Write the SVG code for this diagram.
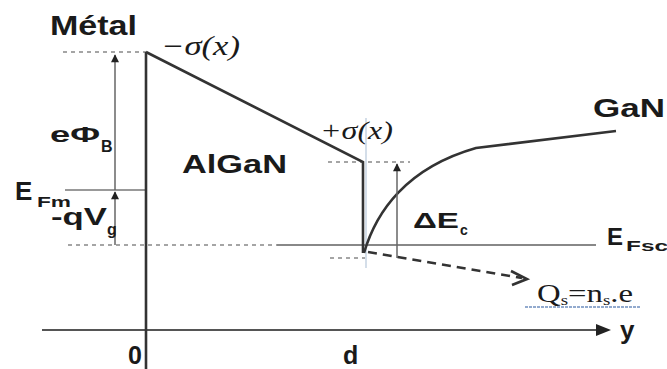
<svg xmlns="http://www.w3.org/2000/svg" width="667" height="369" viewBox="0 0 667 369">
<defs>
<style>
.lbl{font-family:"Liberation Sans",Arial,sans-serif;font-weight:bold;fill:#1a1a1a}
.ser{font-family:"Liberation Serif","Times New Roman",serif;fill:#1a1a1a}
.band{stroke:#333;stroke-width:2.6;fill:none}
.thin{stroke:#777;stroke-width:1.5;fill:none}
.dash{stroke:#888;stroke-width:1.6;stroke-dasharray:4 4;fill:none}
.arr{stroke:#666;stroke-width:1.5;fill:none}
</style>
<marker id="up" viewBox="0 0 10 10" refX="9" refY="5" markerWidth="9" markerHeight="8" orient="auto" markerUnits="userSpaceOnUse">
<path d="M0,0 L10,5 L0,10 Z" fill="#222"/>
</marker>
</defs>
<rect width="667" height="369" fill="#fff"/>

<g id="connectors">
<line class="dash" x1="63" y1="52" x2="146" y2="52"/>
<line class="thin" x1="65" y1="190" x2="146" y2="190"/>
<line class="dash" x1="68" y1="245" x2="277" y2="245"/>
<line x1="277" y1="245" x2="596" y2="245" stroke="#888" stroke-width="2"/>
<line class="dash" x1="328" y1="162" x2="410" y2="162"/>
<line class="dash" x1="330" y1="258" x2="365" y2="258"/>
<line x1="42" y1="330" x2="598" y2="330" stroke="#555" stroke-width="2"/>
<path d="M596,324 L611,330 L596,336 Z" fill="#222"/>
<line x1="146" y1="52" x2="146" y2="369" stroke="#333" stroke-width="2.6"/>
<line x1="366" y1="118" x2="366" y2="268" stroke="#b8c8da" stroke-width="1.2"/>
<polyline class="band" points="146,52 363,162 363,253"/>
<path class="band" d="M364,253 C376,212 406,168 476,148 L616,131"/>
<line class="arr" x1="115" y1="190" x2="115" y2="55" marker-end="url(#up)"/>
<line class="arr" x1="115" y1="245" x2="115" y2="192" marker-end="url(#up)"/>
<line class="arr" x1="397" y1="258" x2="397" y2="164" marker-end="url(#up)"/>
<line x1="368" y1="252" x2="522" y2="278" stroke="#333" stroke-width="2.6" stroke-dasharray="9 6"/>
<polyline points="511,271 527,279 512,285" fill="none" stroke="#333" stroke-width="2.6"/>
<line x1="525" y1="307" x2="640" y2="307" stroke="#6f8fbf" stroke-width="1.6" stroke-dasharray="3 1"/>
</g>

<g id="metal"><text class="lbl" x="50" y="35" font-size="27" textLength="87" lengthAdjust="spacingAndGlyphs">Métal</text></g>
<g id="algan"><text class="lbl" x="182" y="173" font-size="25" textLength="105" lengthAdjust="spacingAndGlyphs">AlGaN</text></g>
<g id="gan"><text class="lbl" x="593" y="117" font-size="26" textLength="72" lengthAdjust="spacingAndGlyphs">GaN</text></g>
<g id="sigma-minus"><text class="ser" x="161" y="55" font-size="27" font-style="italic" textLength="79" lengthAdjust="spacingAndGlyphs">−σ(x)</text></g>
<g id="sigma-plus"><text class="ser" x="320" y="139" font-size="26" font-style="italic" textLength="73" lengthAdjust="spacingAndGlyphs">+σ(x)</text></g>
<g id="ephib">
<text class="lbl" x="50" y="142" font-size="22" textLength="50" lengthAdjust="spacingAndGlyphs">eΦ</text>
<text class="lbl" x="101" y="152" font-size="16">B</text>
</g>
<g id="efm">
<text class="lbl" x="15" y="200" font-size="26">E</text>
<text class="lbl" x="37" y="207" font-size="14" textLength="34" lengthAdjust="spacingAndGlyphs">Fm</text>
</g>
<g id="qvg">
<text class="lbl" x="51" y="225" font-size="23" textLength="56" lengthAdjust="spacingAndGlyphs">-qV</text>
<text class="lbl" x="107" y="235" font-size="16">g</text>
</g>
<g id="dec">
<text class="lbl" x="413" y="228" font-size="22" textLength="46" lengthAdjust="spacingAndGlyphs">ΔE</text>
<text class="lbl" x="460" y="235" font-size="14">c</text>
</g>
<g id="efsc">
<text class="lbl" x="607" y="245" font-size="24">E</text>
<text class="lbl" x="626" y="251" font-size="15" textLength="42" lengthAdjust="spacingAndGlyphs">Fsc</text>
</g>
<g id="qs">
<text class="ser" x="537" y="302" font-size="26" textLength="96" lengthAdjust="spacingAndGlyphs">Q<tspan font-size="15" dy="3">s</tspan><tspan dy="-3">=n</tspan><tspan font-size="15" dy="3">s</tspan><tspan dy="-3">.e</tspan></text>
</g>
<g id="axis-labels">
<text class="lbl" x="128" y="364" font-size="25">0</text>
<text class="lbl" x="343" y="364" font-size="25">d</text>
<text class="lbl" x="620" y="339" font-size="26">y</text>
</g>
</svg>
